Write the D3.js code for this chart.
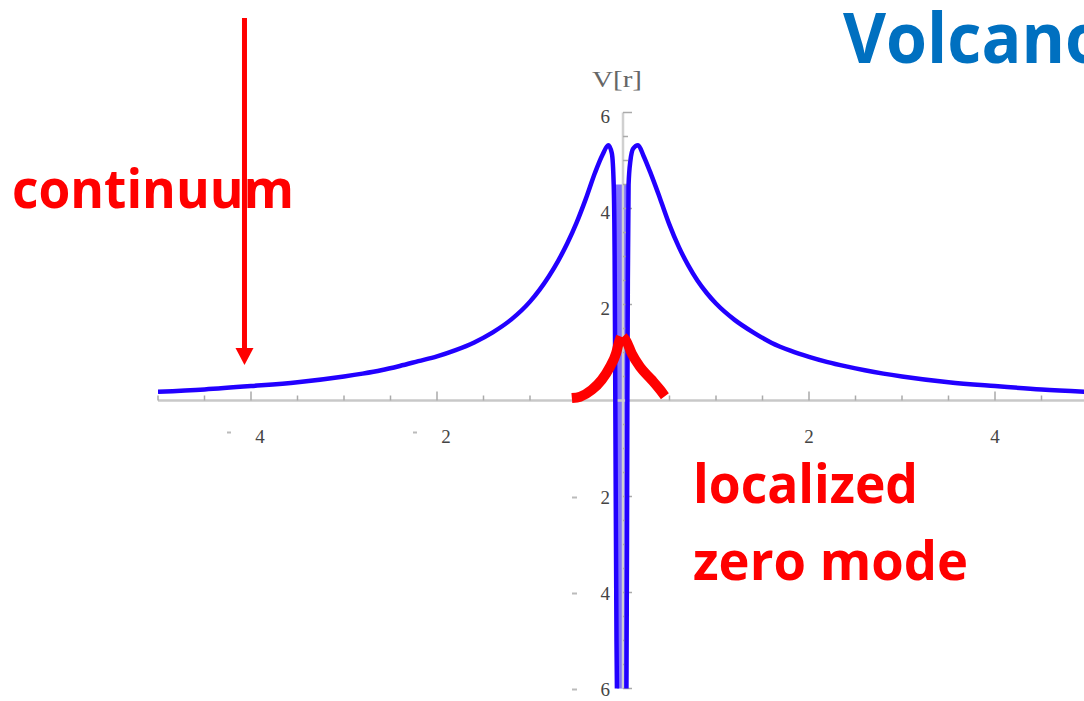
<!DOCTYPE html>
<html>
<head>
<meta charset="utf-8">
<script src="https://cdn.jsdelivr.net/npm/d3@7"></script>
<style>
  body { margin: 0; background: #fff; }
  svg { display: block; }
</style>
</head>
<body>
<svg id="chart" width="1084" height="701"></svg>
<script>
// volcano potential V(r)
const potX = [-5, -4.5, -4, -3.5, -3, -2.8, -2.6, -2.4, -2.2, -2.0, -1.8, -1.6, -1.4, -1.2, -1.0,
  -0.9, -0.8, -0.7, -0.6, -0.5, -0.4, -0.3, -0.22, -0.158, -0.12, -0.1, -0.09, -0.085, -0.078, -0.07,
  -0.06, -0.03, 0, 0.032, 0.037, 0.043, 0.047, 0.052, 0.06, 0.08, 0.11, 0.162, 0.22, 0.3, 0.4,
  0.5, 0.6, 0.7, 0.8, 0.9, 1.0, 1.2, 1.4, 1.6, 1.8, 2.0, 2.2, 2.4, 2.6, 2.8, 3.0, 3.5, 4.0, 4.5, 5.0];
const potV = [0.18, 0.23, 0.3, 0.38, 0.5, 0.56, 0.63, 0.72, 0.82, 0.92, 1.05, 1.21, 1.42, 1.69, 2.06,
  2.3, 2.58, 2.9, 3.27, 3.7, 4.2, 4.75, 5.12, 5.32, 5.15, 4.5, 3.0, 1.0, -2, -5,
  -7, -10, -11, -8, -6, -3, 0, 2.5, 4.5, 5.0, 5.25, 5.32, 5.1, 4.72, 4.2,
  3.66, 3.2, 2.82, 2.5, 2.24, 2.02, 1.68, 1.42, 1.2, 1.04, 0.91, 0.8, 0.71, 0.63, 0.56, 0.5, 0.38, 0.3, 0.23, 0.18];

// localized zero mode sketch (two arcs meeting in a cusp)
const modeLeftX = [-0.55, -0.46, -0.336, -0.229, -0.14, -0.075, -0.04, -0.022];
const modeLeftV = [0.05, 0.08, 0.22, 0.43, 0.7, 0.98, 1.24, 1.33];
const modeRightX = [-0.002, 0.035, 0.094, 0.183, 0.309, 0.4, 0.45];
const modeRightV = [1.33, 1.24, 0.98, 0.7, 0.43, 0.22, 0.09];

const xTickLabels = [-4, -2, 2, 4];
const yTickLabels = [-6, -4, -2, 2, 4, 6];

let svg = d3.select("#chart");

let x = d3.scaleLinear().domain([-5, 5]).range([158, 1088]);
let y = d3.scaleLinear().domain([-6, 6]).range([688.5, 112.5]);

svg.append("rect").attr("width", 1084).attr("height", 701).attr("fill", "#fff");

//axes, drawn by hand so ticks sit on the inside like the original
let axes = svg.append("g");
axes.append("line")
  .attr("x1", x(-5)).attr("x2", 1084)
  .attr("y1", y(0)).attr("y2", y(0))
  .attr("stroke", "#c8c8c8").attr("stroke-width", 2.5);

let xTicks = d3.range(-5, 5.01, 0.5).filter((d) => d !== 0);
axes.selectAll(".xt").data(xTicks).enter().append("line")
  .attr("x1", (d) => x(d)).attr("x2", (d) => x(d))
  .attr("y1", y(0)).attr("y2", (d) => y(0) - (d % 2 === 0 ? 9 : 5))
  .attr("stroke", "#aaa").attr("stroke-width", 1.5);

//tick labels (mathematica style, faint detached minus)
axes.selectAll(".xl").data(xTickLabels).enter().append("text")
  .attr("x", (d) => x(d) + (d < 0 ? 9 : 0))
  .attr("y", y(0) + 42)
  .attr("text-anchor", "middle")
  .attr("font-family", "Liberation Serif, serif")
  .attr("font-size", 19)
  .attr("fill", "#444")
  .text((d) => Math.abs(d));
axes.selectAll(".xm").data(xTickLabels.filter((d) => d < 0)).enter().append("rect")
  .attr("x", (d) => x(d) - 24).attr("y", y(0) + 31)
  .attr("width", 4).attr("height", 2).attr("fill", "#bbb");

axes.selectAll(".yl").data(yTickLabels).enter().append("text")
  .attr("x", x(0) - 13)
  .attr("y", (d) => y(d) + (d > 0 ? 10 : 7))
  .attr("text-anchor", "end")
  .attr("font-family", "Liberation Serif, serif")
  .attr("font-size", 19)
  .attr("fill", "#444")
  .text((d) => Math.abs(d));
axes.selectAll(".ym").data(yTickLabels.filter((d) => d < 0)).enter().append("rect")
  .attr("x", x(0) - 51).attr("y", (d) => y(d))
  .attr("width", 5).attr("height", 2).attr("fill", "#bbb");

axes.append("text")
  .attr("x", x(0) - 31).attr("y", 87)
  .attr("font-family", "Liberation Serif, serif")
  .attr("font-size", 24)
  .attr("textLength", 50).attr("lengthAdjust", "spacingAndGlyphs")
  .attr("fill", "#666")
  .text("V[r]");

//the potential curve, clipped at the bottom of the frame
svg.append("clipPath").attr("id", "plot-clip")
  .append("rect").attr("x", x(-5)).attr("y", 0)
  .attr("width", 1084 - x(-5)).attr("height", y(-6));

let potData = potX.map((d, i) => ({ x: d, v: potV[i] }));
let line = d3.line().x((d) => x(d.x)).y((d) => y(d.v)).curve(d3.curveMonotoneX);

//the narrow well reads as a pale band in the original
svg.append("path")
  .datum(potData.filter((d) => d.x >= -0.1 && d.x <= 0.06))
  .attr("clip-path", "url(#plot-clip)")
  .attr("d", line)
  .attr("fill", "#7f70ff")
  .attr("stroke", "none");

//y axis shows through the pale band
axes.raise();
axes.append("line")
  .attr("x1", x(0)).attr("x2", x(0))
  .attr("y1", y(6)).attr("y2", y(-6))
  .attr("stroke", "#d0d0d0").attr("stroke-width", 2.5);
let yTicks = d3.range(-6, 6.01, 0.5).filter((d) => d !== 0);
axes.selectAll(".yt").data(yTicks).enter().append("line")
  .attr("x1", x(0)).attr("x2", (d) => x(0) + (d % 2 === 0 ? 9 : 5))
  .attr("y1", (d) => y(d)).attr("y2", (d) => y(d))
  .attr("stroke", "#aaa").attr("stroke-width", 1.5);

svg.append("path")
  .datum(potData)
  .attr("clip-path", "url(#plot-clip)")
  .attr("d", line)
  .attr("fill", "none")
  .attr("stroke", "#2200ff")
  .attr("stroke-width", 4.5)
  .attr("stroke-linejoin", "round");

//red annotations
let red = "#ff0000";
let modeLine = d3.line().x((d) => x(d.x)).y((d) => y(d.v)).curve(d3.curveMonotoneX);
[[modeLeftX, modeLeftV], [modeRightX, modeRightV]].forEach(([xs, vs]) => {
  svg.append("path")
    .datum(xs.map((d, i) => ({ x: d, v: vs[i] })))
    .attr("d", modeLine)
    .attr("fill", "none")
    .attr("stroke", red)
    .attr("stroke-width", 10);
});

let arrowX = -4.07;
svg.append("line")
  .attr("x1", x(arrowX)).attr("x2", x(arrowX))
  .attr("y1", 18).attr("y2", y(0.74) - 14)
  .attr("stroke", red).attr("stroke-width", 5);
svg.append("path")
  .attr("d", "M" + (x(arrowX) - 9) + "," + (y(0.74) - 17) +
    "L" + (x(arrowX) + 9) + "," + (y(0.74) - 17) +
    "L" + x(arrowX) + "," + y(0.74) + "Z")
  .attr("fill", red);

let labelFont = "Open Sans, DejaVu Sans, sans-serif";
svg.append("text")
  .attr("x", 12).attr("y", 208)
  .attr("font-family", labelFont).attr("font-weight", 700).attr("font-size", 53)
  .attr("textLength", 282).attr("lengthAdjust", "spacingAndGlyphs")
  .attr("fill", red)
  .text("continuum");

svg.append("text")
  .attr("x", 693).attr("y", 503)
  .attr("font-family", labelFont).attr("font-weight", 700).attr("font-size", 54)
  .attr("textLength", 225).attr("lengthAdjust", "spacingAndGlyphs")
  .attr("fill", red)
  .text("localized");

svg.append("text")
  .attr("x", 693).attr("y", 580)
  .attr("font-family", labelFont).attr("font-weight", 700).attr("font-size", 54)
  .attr("textLength", 275).attr("lengthAdjust", "spacingAndGlyphs")
  .attr("fill", red)
  .text("zero mode");

svg.append("text")
  .attr("x", 843).attr("y", 63)
  .attr("font-family", labelFont).attr("font-weight", 700).attr("font-size", 70)
  .attr("textLength", 263).attr("lengthAdjust", "spacingAndGlyphs")
  .attr("fill", "#0070c0")
  .text("Volcano");
</script>
</body>
</html>
